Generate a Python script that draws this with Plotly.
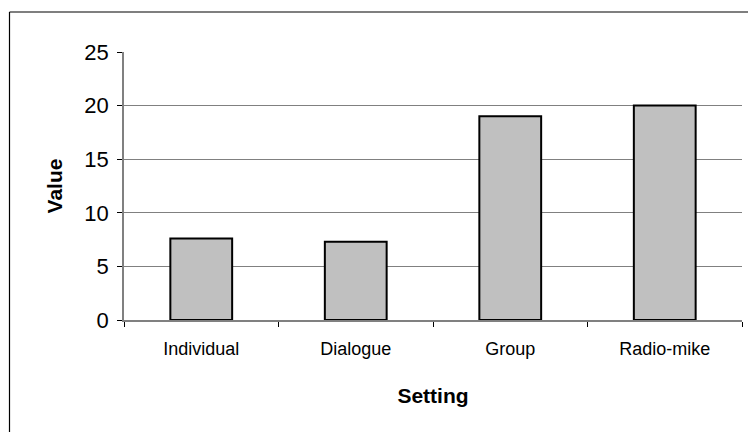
import plotly.graph_objects as go

# Mean value per recording setting
settings = ["Individual", "Dialogue", "Group", "Radio-mike"]
values = [7.6, 7.3, 19.0, 20.0]
y_ticks = [0, 5, 10, 15, 20, 25]

W, H = 748, 432
ML, MR, MT, MB = 124, 6, 52, 112
PW, PH = W - ML - MR, H - MT - MB


def px_to_paper(x, y):
    return (x - ML) / PW, (H - MB - y) / PH


fig = go.Figure(
    go.Bar(
        x=settings,
        y=values,
        marker=dict(color="#C0C0C0", line=dict(color="#000000", width=2)),
        width=0.4,
    )
)

# chart-area frame (left and top edges visible)
x0, y0 = px_to_paper(9.5, 12)
x1, y1 = px_to_paper(760, 445)
fig.add_shape(type="line", xref="paper", yref="paper", x0=x0, y0=y0, x1=x0, y1=y1,
              line=dict(color="#000000", width=1.2))
fig.add_shape(type="line", xref="paper", yref="paper", x0=x0, y0=y0, x1=x1, y1=y0,
              line=dict(color="#000000", width=1.2))

fig.update_layout(
    width=W,
    height=H,
    margin=dict(l=ML, r=MR, t=MT, b=MB, autoexpand=False),
    paper_bgcolor="white",
    plot_bgcolor="white",
    showlegend=False,
    font=dict(family="Liberation Sans, Arial, sans-serif", color="#000000"),
    bargap=0.6,
)

fig.update_xaxes(
    type="category",
    showgrid=False,
    showline=True,
    linecolor="#808080",
    linewidth=1.5,
    ticks="outside",
    tickson="boundaries",
    ticklen=5,
    tickcolor="#000000",
    tickfont=dict(size=18),
    ticklabelstandoff=12,
    title=dict(text="<b>Setting</b>", font=dict(size=21), standoff=30),
    automargin=False,
)

fig.update_yaxes(
    range=[0, 25],
    tickvals=y_ticks,
    showgrid=True,
    gridcolor="#808080",
    gridwidth=1.2,
    zeroline=False,
    showline=True,
    linecolor="#808080",
    linewidth=1.5,
    ticks="outside",
    ticklen=5,
    tickcolor="#000000",
    tickfont=dict(size=22),
    ticklabelstandoff=4,
    title=dict(text="<b>Value</b>", font=dict(size=21), standoff=16),
    automargin=False,
)

fig.write_html("out.html")
